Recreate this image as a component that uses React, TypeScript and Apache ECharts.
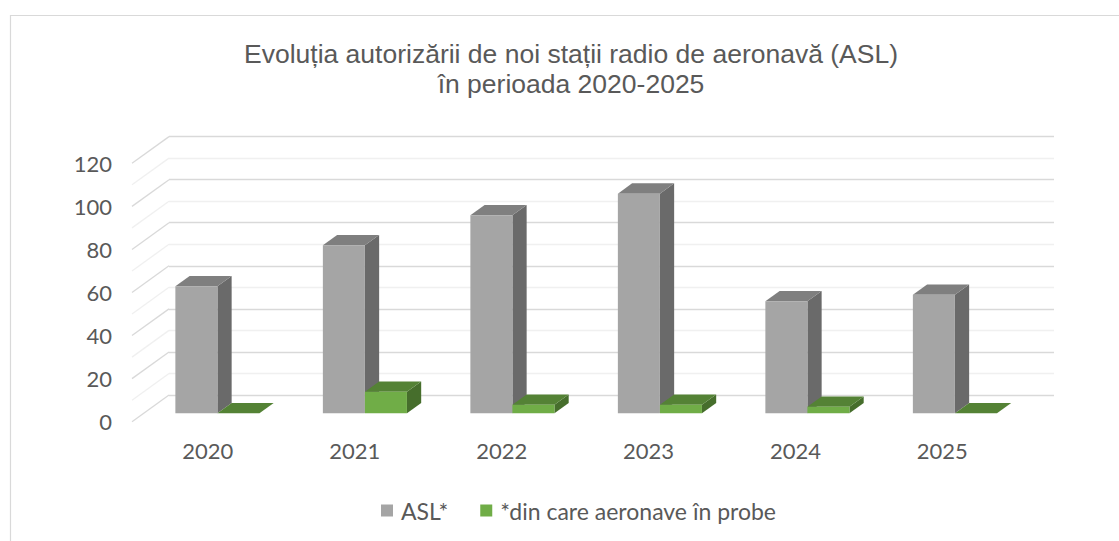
import React, { useEffect, useRef } from "react";
import * as echarts from "echarts";

// ---- data ----
const years = ["2020", "2021", "2022", "2023", "2024", "2025"];
const aslValues = [59, 78, 92, 102, 52, 55];
const probeValues = [0, 10, 4, 4, 3, 0];
const gridValues = [0, 10, 20, 30, 40, 50, 60, 70, 80, 90, 100, 110, 120];
const seriesNames = ["ASL*", "*din care aeronave în probe"];
const titleLines = [
  "Evoluția autorizării de noi stații radio de aeronavă (ASL)",
  "în perioada 2020-2025",
];

// ---- styling / geometry ----
const DX = 37; // depth vector (front -> back wall)
const DY = -26.7;
const D0 = 0.315; // bar front depth fraction
const D1 = 0.7; // bar back depth fraction
const BAR_W = 0.285; // bar width as fraction of category width
const GRAY = { front: "#a5a5a5", top: "#7f7f7f", side: "#6a6a6a" };
const GREEN = { front: "#70ad47", top: "#548235", side: "#466e2c" };
const TEXT = "#595959";
const FONT = "Lato, 'Open Sans', sans-serif";

function barRenderer(slot: number, col: { front: string; top: string; side: string }) {
  return (params: any, api: any) => {
    const cat = api.value(0);
    const v = api.value(1);
    const base = api.coord([cat, 0]);
    const catW = api.size([1, 0])[0];
    const h = api.size([0, v])[1];
    const bw = catW * BAR_W;
    const x0 = base[0] + (slot === 0 ? -bw : 0) + D0 * DX;
    const y0 = base[1] + D0 * DY;
    const ddx = (D1 - D0) * DX;
    const ddy = (D1 - D0) * DY;
    const yt = y0 - h;
    return {
      type: "group",
      children: [
        {
          type: "polygon",
          shape: {
            points: [
              [x0 + bw, y0],
              [x0 + bw + ddx, y0 + ddy],
              [x0 + bw + ddx, yt + ddy],
              [x0 + bw, yt],
            ],
          },
          style: { fill: col.side },
        },
        {
          type: "polygon",
          shape: {
            points: [
              [x0, yt],
              [x0 + bw, yt],
              [x0 + bw + ddx, yt + ddy],
              [x0 + ddx, yt + ddy],
            ],
          },
          style: { fill: col.top },
        },
        {
          type: "rect",
          shape: { x: x0, y: yt, width: bw, height: h },
          style: { fill: col.front },
        },
      ],
    };
  };
}

export default function App() {
  const ref = useRef<HTMLDivElement>(null);
  useEffect(() => {
    if (!ref.current) return;
    const chart = echarts.init(ref.current, undefined, { renderer: "svg" });
    const option: any = {
      animation: false,
      backgroundColor: "#ffffff",
      title: {
        text: titleLines.join("\n"),
        left: 571,
        top: 38.5,
        padding: 0,
        textAlign: "center",
        textStyle: {
          fontFamily: "'Liberation Sans', Arial, sans-serif",
          fontSize: 26.5,
          fontWeight: "normal",
          color: TEXT,
          lineHeight: 30,
        },
      },
      legend: {
        data: seriesNames,
        left: 381,
        top: 499,
        padding: 0,
        icon: "rect",
        itemWidth: 12,
        itemHeight: 12,
        itemGap: 32,
        textStyle: { fontFamily: FONT, fontSize: 23, color: TEXT, padding: [0, 0, 0, 3] },
      },
      graphic: [
        {
          type: "rect",
          shape: { x: 10.5, y: 15.5, width: 1200, height: 600 },
          style: { fill: "none", stroke: "#d9d9d9", lineWidth: 1.2 },
          silent: true,
        },
      ],
      grid: [
        { left: 132, top: 163.3, width: 885, height: 258.4 },
        { left: 169, top: 136.6, width: 885, height: 258.4 },
        { left: 134.4, top: 163.3, width: 881.4, height: 258.4 },
      ],
      xAxis: [
        {
          gridIndex: 0,
          type: "category",
          data: years,
          axisLine: { show: false },
          axisTick: { show: false },
          axisLabel: { show: false },
          splitLine: { show: false },
        },
        {
          gridIndex: 1,
          type: "category",
          data: years,
          show: false,
        },
        {
          gridIndex: 2,
          type: "category",
          data: years,
          axisLine: { show: false },
          axisTick: { show: false },
          splitLine: { show: false },
          axisLabel: { margin: 18, fontFamily: FONT, fontSize: 22, color: TEXT },
        },
      ],
      yAxis: [
        {
          gridIndex: 0,
          type: "value",
          min: 0,
          max: 120,
          interval: 20,
          axisLine: { show: false },
          axisTick: { show: false },
          splitLine: { show: false },
          axisLabel: { margin: 20, fontFamily: FONT, fontSize: 22, color: TEXT },
        },
        {
          gridIndex: 1,
          type: "value",
          min: 0,
          max: 120,
          interval: 10,
          axisLine: { show: false },
          axisTick: { show: false },
          axisLabel: { show: false },
          splitLine: {
            show: true,
            lineStyle: { color: ["#d9d9d9", "#f0f0f0"], width: 1.3 },
          },
        },
        {
          gridIndex: 2,
          type: "value",
          min: 0,
          max: 120,
          show: false,
        },
      ],
      series: [
        {
          type: "custom",
          name: "depthLines",
          xAxisIndex: 0,
          yAxisIndex: 0,
          silent: true,
          z: 1,
          data: gridValues.map((v) => [0, v]),
          renderItem: (params: any, api: any) => {
            const p = api.coord([0, api.value(1)]);
            const catW = api.size([1, 0])[0];
            const x = p[0] - catW / 2;
            return {
              type: "line",
              shape: { x1: x, y1: p[1], x2: x + DX, y2: p[1] + DY },
              style: {
                stroke: params.dataIndex % 2 === 0 ? "#d9d9d9" : "#f0f0f0",
                lineWidth: 1.3,
              },
            };
          },
        },
        {
          type: "custom",
          name: seriesNames[0],
          xAxisIndex: 0,
          yAxisIndex: 0,
          z: 3,
          itemStyle: { color: GRAY.front },
          data: aslValues.map((v, i) => [i, v]),
          renderItem: barRenderer(0, GRAY),
        },
        {
          type: "custom",
          name: seriesNames[1],
          xAxisIndex: 0,
          yAxisIndex: 0,
          z: 4,
          itemStyle: { color: GREEN.front },
          data: probeValues.map((v, i) => [i, v]),
          renderItem: barRenderer(1, GREEN),
        },
      ],
    };
    chart.setOption(option);
    return () => chart.dispose();
  }, []);
  return (
    <div
      ref={ref}
      style={{ position: "fixed", left: 0, top: 0, width: 1119, height: 541 }}
    />
  );
}
